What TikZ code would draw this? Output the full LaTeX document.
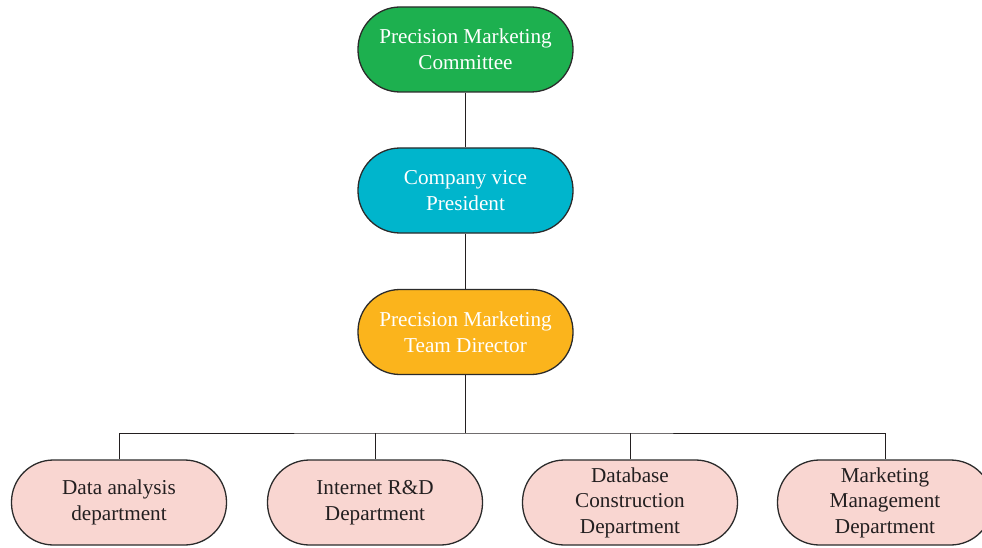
\documentclass[tikz,border=0pt]{standalone}
\usepackage{fontspec}
\setmainfont{Liberation Serif}
\definecolor{cgreen}{HTML}{1DB04F}
\definecolor{ccyan}{HTML}{00B5CC}
\definecolor{corange}{HTML}{FBB41C}
\definecolor{cpink}{HTML}{F9D6D1}
\definecolor{cedge}{HTML}{2B2B2B}
\definecolor{ctext}{HTML}{231F20}
\begin{document}
\begin{tikzpicture}[x=1pt,y=-1pt,
  pill/.style={draw=cedge,line width=1.3pt,rounded corners=42pt,minimum width=215pt,minimum height=85pt,
    align=center,inner sep=0pt,font=\fontsize{21.2}{25.5}\selectfont},
  toppill/.style={pill,text=white},
  botpill/.style={pill,fill=cpink,text=ctext},
  link/.style={draw=ctext,line width=1pt}]
\useasboundingbox (0,0) rectangle (982,548);
\node[toppill,fill=cgreen] (pmc) at (465.5,49.5) {Precision Marketing\\Committee};
\node[toppill,fill=ccyan] (vp) at (465.5,190.5) {Company vice\\President};
\node[toppill,fill=corange] (dir) at (465.5,332) {Precision Marketing\\Team Director};
\node[botpill] (da) at (119,502.5) {Data analysis\\department};
\node[botpill] (ir) at (375,502.5) {Internet R\&D\\Department};
\node[botpill] (db) at (630,502.5) {Database\\Construction\\Department};
\node[botpill] (mm) at (885,502.5) {Marketing\\Management\\Department};
\coordinate (bus) at (465.5,433);
\draw[link] (pmc) -- (vp);
\draw[link] (vp) -- (dir);
\draw[link] (dir) -- (bus);
\draw[link] (da.north) |- (bus) -| (mm.north);
\draw[link] (ir.north) -- (ir.north |- bus);
\draw[link] (db.north) -- (db.north |- bus);
\end{tikzpicture}
\end{document}
